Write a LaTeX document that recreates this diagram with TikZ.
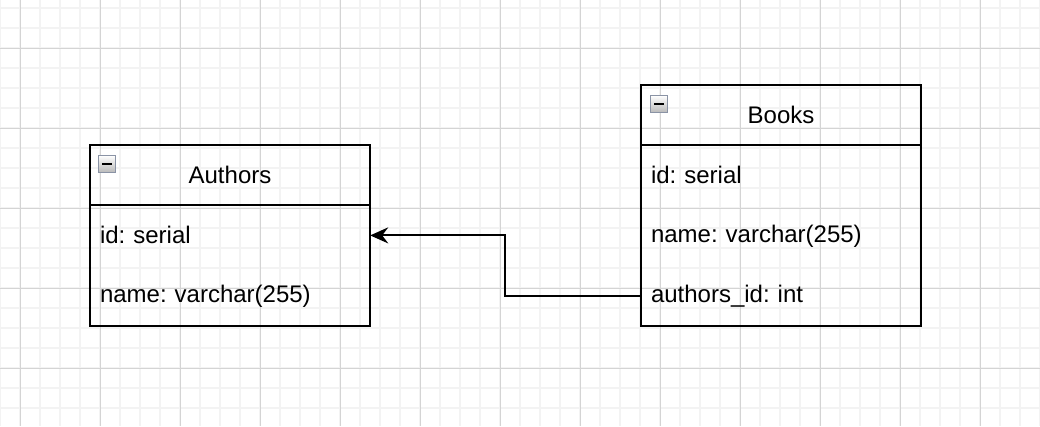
\documentclass[tikz,border=0pt]{standalone}
\usepackage{fontspec}
\setmainfont{Liberation Sans}
\usetikzlibrary{positioning}
\usetikzlibrary{arrows.meta}
\frenchspacing

\definecolor{minorgray}{HTML}{F3F3F3}
\definecolor{majorgray}{HTML}{D4D4D4}
\definecolor{iconedge}{HTML}{8A93A5}

\tikzset{
    minorline/.style={minorgray, line width=1.6pt},
    majorline/.style={majorgray, line width=1pt},
    tblhead/.style={minimum width=280pt, minimum height=60pt, inner sep=0pt,
        font=\fontsize{24}{29}\selectfont},
    tblfield/.style={minimum width=280pt, minimum height=60pt, inner sep=0pt,
        text width=260pt, align=left, font=\fontsize{24}{29}\selectfont},
    tblbox/.style={draw=black, line width=2pt},
    collapse/.style={draw=iconedge, line width=1.2pt, top color=white, bottom color=gray!55,
        minimum size=17pt, inner sep=0pt,
        path picture={\fill[black] ([xshift=3.5pt,yshift=-1.4pt]path picture bounding box.west)
            rectangle ([xshift=-3.5pt,yshift=1.4pt]path picture bounding box.east);}},
    fk/.style={draw=black, line width=2pt, -{Stealth[length=18pt, width=16pt, inset=6pt]}},
}

\begin{document}
\begin{tikzpicture}[x=1pt, y=-1pt]
    \useasboundingbox[fill=white] (0,0) rectangle (1040,426);

    % grid
    \foreach \gx in {0,20,...,1040} \draw[minorline] (\gx,0) -- (\gx,426);
    \foreach \gy in {8,28,...,426} \draw[minorline] (0,\gy) -- (1040,\gy);
    \foreach \gx in {20,100,...,1040} \draw[majorline] (\gx,0) -- (\gx,426);
    \foreach \gy in {48,128,...,426} \draw[majorline] (0,\gy) -- (1040,\gy);

    % Authors
    \node[tblhead] (authors) at (230,175) {Authors};
    \node[tblfield, below=0pt of authors] (authorsid) {id: serial};
    \node[tblfield, below=0pt of authorsid] (authorsname) {name: varchar(255)};
    \draw[tblbox] (authors.north west) rectangle (authorsname.south east);
    \draw[tblbox] (authors.south west) -- (authors.south east);
    \node[collapse, anchor=north west] (authorsicon) at ([shift={(8,10)}]authors.north west) {};

    % Books
    \node[tblhead] (books) at (781,115) {Books};
    \node[tblfield, below=0pt of books] (booksid) {id: serial};
    \node[tblfield, below=0pt of booksid] (booksname) {name: varchar(255)};
    \node[tblfield, below=0pt of booksname] (booksaid) {authors\_id: int};
    \draw[tblbox] (books.north west) rectangle (booksaid.south east);
    \draw[tblbox] (books.south west) -- (books.south east);
    \node[collapse, anchor=north west] (booksicon) at ([shift={(9,10)}]books.north west) {};

    \coordinate (elbow) at (505,0);
    \draw[fk] (booksaid.west) -- (booksaid.west -| elbow) |- (authorsid.east);
\end{tikzpicture}
\end{document}
